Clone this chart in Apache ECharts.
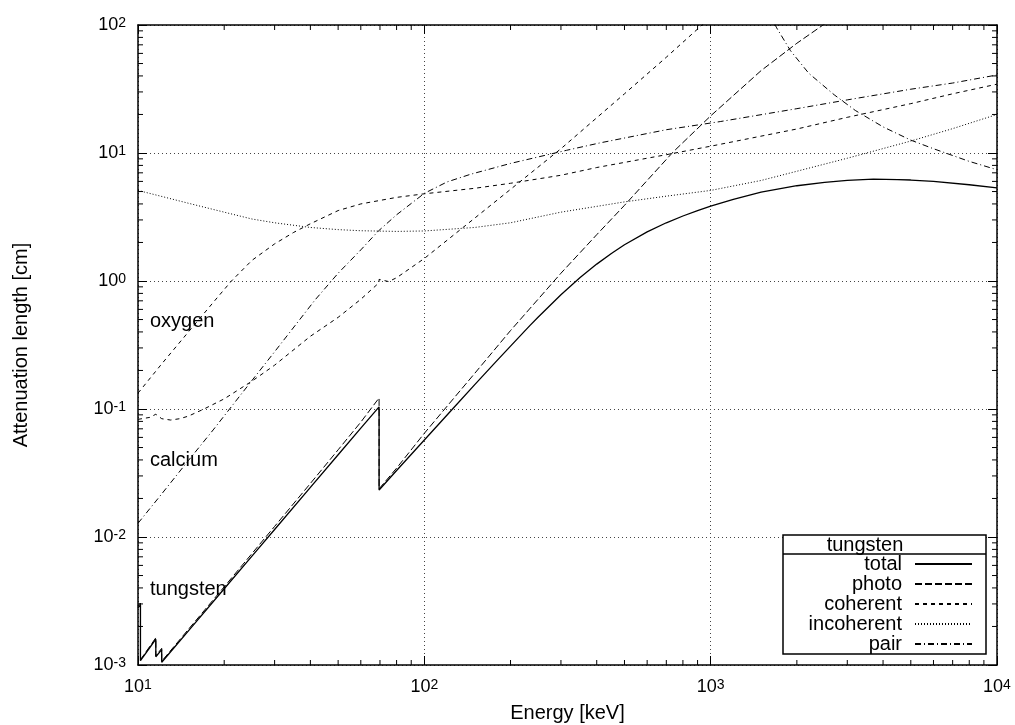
<!DOCTYPE html>
<html>
<head>
<meta charset="utf-8">
<title>Attenuation length</title>
<script src="https://cdn.jsdelivr.net/npm/echarts@6/dist/echarts.min.js"></script>
<style>
  html, body { margin: 0; padding: 0; background: #fff; }
  #chart { width: 1015px; height: 725px; }
</style>
</head>
<body>
<div id="chart"></div>
<script>
// energy in keV, attenuation length in cm
var totalE = [10, 10.2, 10.2, 11, 11.54, 11.54, 12.1, 12.1, 13, 15, 20, 25, 30, 40, 50, 60, 69.5, 69.5, 80, 100, 125, 150, 175, 200, 234, 250, 300, 350, 400, 450, 500, 600, 700, 800, 900, 1000, 1200, 1500, 2000, 2500, 3000, 3700, 4500, 5000, 6000, 8000, 10000];
var totalL = [0.0028, 0.00295, 0.00108, 0.00137, 0.00159, 0.00116, 0.00132, 0.00105, 0.00127, 0.00185, 0.00394, 0.00708, 0.01144, 0.0244, 0.0439, 0.0708, 0.104, 0.0233, 0.0331, 0.0573, 0.099, 0.155, 0.225, 0.31, 0.45, 0.524, 0.782, 1.065, 1.355, 1.642, 1.92, 2.42, 2.85, 3.22, 3.55, 3.85, 4.35, 4.95, 5.55, 5.9, 6.12, 6.25, 6.2, 6.15, 6.0, 5.65, 5.33];

var photoE = [10, 10.2, 10.2, 11.54, 11.54, 12.1, 12.1, 15, 20, 30, 40, 50, 60, 69.5, 69.5, 80, 100, 150, 200, 300, 400, 500, 740, 1000, 1500, 2000, 2500, 3000];
var photoL = [0.0029, 0.00305, 0.0011, 0.00163, 0.00118, 0.00135, 0.00107, 0.0019, 0.00408, 0.0121, 0.0262, 0.048, 0.079, 0.122, 0.0238, 0.0345, 0.0646, 0.19, 0.41, 1.15, 2.3, 3.9, 10.2, 19.5, 44, 72, 102, 140];

var cohE = [10, 11, 11.54, 12.1, 13, 14, 15, 17, 20, 25, 30, 40, 50, 60, 69.5, 69.5, 75, 80, 100, 150, 200, 300, 500, 700, 1000, 1200];
var cohL = [0.083, 0.086, 0.091, 0.084, 0.082, 0.084, 0.088, 0.1, 0.12, 0.165, 0.22, 0.37, 0.52, 0.72, 0.97, 1.03, 0.99, 1.06, 1.5, 3.1, 5.2, 10.8, 29, 56, 115, 165];

var incohE = [10, 12, 15, 20, 25, 30, 40, 50, 60, 80, 100, 150, 200, 300, 500, 700, 1000, 1500, 2000, 3000, 5000, 7000, 10000];
var incohL = [5.1, 4.6, 4.05, 3.45, 3.05, 2.85, 2.62, 2.52, 2.47, 2.44, 2.46, 2.62, 2.85, 3.45, 4.15, 4.6, 5.1, 6.1, 7.2, 9.1, 12.4, 15.5, 20];

var pairE = [1600, 1700, 1900, 2200, 2700, 3200, 4000, 5000, 6000, 8000, 10000];
var pairL = [125, 95, 63, 42, 28.5, 21.5, 16, 12.6, 10.8, 8.6, 7.4];

// other materials, drawn without a legend entry
var oxygenE = [10, 12, 15, 19, 21.2, 25, 30, 35, 40, 50, 60, 80, 100, 150, 200, 300, 400, 700, 1000, 2000, 3000, 5000, 7000, 10000];
var oxygenL = [0.133, 0.22, 0.40, 0.75, 1.0, 1.45, 1.95, 2.4, 2.8, 3.55, 4.0, 4.5, 4.8, 5.3, 5.8, 6.7, 7.7, 9.7, 11.3, 15.4, 19, 24.3, 29, 34.5];

var calciumE = [10, 12, 15, 18.3, 25, 30, 41.5, 50, 60, 69, 80, 100, 120, 145, 200, 314, 411, 700, 1080, 2000, 3000, 5000, 7000, 10000];
var calciumL = [0.0128, 0.0212, 0.0396, 0.0686, 0.167, 0.28, 0.71, 1.15, 1.75, 2.45, 3.29, 4.84, 5.94, 6.82, 8.29, 10.5, 12.0, 15.2, 17.6, 22.2, 26, 31.5, 35.2, 40.7];

var legendNames = ['total', 'photo', 'coherent', 'incoherent', 'pair'];
var minorSteps = [2, 3, 4, 5, 6, 7, 8, 9];
var xDecades = [10, 100, 1000];
var yDecades = [0.001, 0.01, 0.1, 1, 10];

var X_MIN = 10, X_MAX = 10000, Y_MIN = 0.001, Y_MAX = 100;
var FONT = 'Liberation Sans';
var FS = 20;     // titles, legend, annotations
var TICK_FS = 18;

function pairs(xs, ys) {
  return xs.map(function (x, i) { return [x, ys[i]]; });
}

// minor tick values for both log axes
var minorData = [];
xDecades.forEach(function (d) {
  minorSteps.forEach(function (s) { minorData.push([d * s, Y_MIN, 0]); });
});
yDecades.forEach(function (d) {
  minorSteps.forEach(function (s) { minorData.push([X_MIN, +(d * s).toPrecision(3), 1]); });
});

function renderMinorTick(params, api) {
  var len = 5;
  var st = { stroke: '#000', lineWidth: 1 };
  if (api.value(2) === 0) {
    var b = api.coord([api.value(0), Y_MIN]);
    var t = api.coord([api.value(0), Y_MAX]);
    return {
      type: 'group', children: [
        { type: 'line', shape: { x1: b[0], y1: b[1], x2: b[0], y2: b[1] - len }, style: st },
        { type: 'line', shape: { x1: t[0], y1: t[1], x2: t[0], y2: t[1] + len }, style: st }
      ]
    };
  }
  var l = api.coord([X_MIN, api.value(1)]);
  var r = api.coord([X_MAX, api.value(1)]);
  return {
    type: 'group', children: [
      { type: 'line', shape: { x1: l[0], y1: l[1], x2: l[0] + len, y2: l[1] }, style: st },
      { type: 'line', shape: { x1: r[0], y1: r[1], x2: r[0] - len, y2: r[1] }, style: st }
    ]
  };
}

function powLabel(v) {
  return '10{sup|' + Math.round(Math.log10(v)) + '}';
}

var labelRich = {
  sup: { fontFamily: FONT, fontSize: 14, color: '#000', verticalAlign: 'top', lineHeight: 14 }
};

function lineSeries(name, xs, ys, type, width) {
  return {
    name: name,
    type: 'line',
    data: pairs(xs, ys),
    showSymbol: false,
    symbol: 'none',
    animation: false,
    lineStyle: { color: '#000', width: width || 1, type: type },
    itemStyle: { color: '#000' },
    z: 2
  };
}

var chart = echarts.init(document.getElementById('chart'));

var option = {
  backgroundColor: '#fff',
  animation: false,
  grid: { left: 138, right: 18, top: 25, bottom: 60, containLabel: false, outerBoundsMode: 'none' },
  xAxis: [
    {
      type: 'log', logBase: 10, min: X_MIN, max: X_MAX,
      name: 'Energy [keV]', nameLocation: 'middle', nameGap: 38,
      nameTextStyle: { fontFamily: FONT, fontSize: FS, color: '#000' },
      axisLine: { lineStyle: { color: '#000', width: 1.5 } },
      axisTick: { inside: true, length: 9, lineStyle: { color: '#000' } },
      axisLabel: { formatter: powLabel, fontFamily: FONT, fontSize: TICK_FS, color: '#000', margin: 13, rich: labelRich },
      splitLine: { show: true, lineStyle: { color: '#444', type: [1, 3], width: 1 } }
    },
    {
      type: 'log', logBase: 10, min: X_MIN, max: X_MAX, position: 'top',
      axisLine: { lineStyle: { color: '#000', width: 1.5 } },
      axisTick: { inside: true, length: 9, lineStyle: { color: '#000' } },
      axisLabel: { show: false },
      splitLine: { show: false }
    }
  ],
  yAxis: [
    {
      type: 'log', logBase: 10, min: Y_MIN, max: Y_MAX,
      name: 'Attenuation length [cm]', nameLocation: 'middle', nameGap: 107,
      nameTextStyle: { fontFamily: FONT, fontSize: FS, color: '#000' },
      axisLine: { lineStyle: { color: '#000', width: 1.5 } },
      axisTick: { inside: true, length: 9, lineStyle: { color: '#000' } },
      axisLabel: { formatter: powLabel, fontFamily: FONT, fontSize: TICK_FS, color: '#000', margin: 12, rich: labelRich },
      splitLine: { show: true, lineStyle: { color: '#444', type: [1, 3], width: 1 } }
    },
    {
      type: 'log', logBase: 10, min: Y_MIN, max: Y_MAX, position: 'right',
      axisLine: { lineStyle: { color: '#000', width: 1.5 } },
      axisTick: { inside: true, length: 9, lineStyle: { color: '#000' } },
      axisLabel: { show: false },
      splitLine: { show: false }
    }
  ],
  legend: {
    data: legendNames,
    orient: 'vertical',
    align: 'right',
    right: 42,
    top: 554,
    padding: 0,
    itemWidth: 57,
    itemHeight: 20,
    itemGap: 0,
    selectedMode: false,
    itemStyle: { opacity: 0 },
    textStyle: { fontFamily: FONT, fontSize: FS, lineHeight: 20, color: '#000', padding: [0, 8, 0, 0] },
    z: 5
  },
  graphic: [
    { type: 'rect', z: 3, shape: { x: 783, y: 535, width: 203, height: 119 }, style: { fill: '#fff', stroke: '#000', lineWidth: 1.5 } },
    { type: 'line', z: 3, shape: { x1: 783, y1: 554, x2: 986, y2: 554 }, style: { stroke: '#000', lineWidth: 1.5 } },
    { type: 'text', z: 4, x: 865, y: 545, style: { text: 'tungsten', font: FS + 'px ' + FONT, fill: '#000', align: 'center', verticalAlign: 'middle' } },
    { type: 'text', z: 4, x: 150, y: 321, style: { text: 'oxygen', font: FS + 'px ' + FONT, fill: '#000', align: 'left', verticalAlign: 'middle' } },
    { type: 'text', z: 4, x: 150, y: 460, style: { text: 'calcium', font: FS + 'px ' + FONT, fill: '#000', align: 'left', verticalAlign: 'middle' } },
    { type: 'text', z: 4, x: 150, y: 589, style: { text: 'tungsten', font: FS + 'px ' + FONT, fill: '#000', align: 'left', verticalAlign: 'middle' } }
  ],
  series: [
    lineSeries('oxygen', oxygenE, oxygenL, [4, 4], 1),
    lineSeries('calcium', calciumE, calciumL, [6, 3, 1, 3], 1),
    lineSeries('total', totalE, totalL, 'solid', 1.3),
    lineSeries('photo', photoE, photoL, [7, 3], 1),
    lineSeries('coherent', cohE, cohL, [4, 4], 1),
    lineSeries('incoherent', incohE, incohL, [1, 2], 1),
    lineSeries('pair', pairE, pairL, [6, 3, 1, 3], 1),
    {
      name: 'minor ticks',
      type: 'custom',
      dimensions: ['x', 'y', 'kind'],
      encode: { x: 0, y: 1 },
      data: minorData,
      renderItem: renderMinorTick,
      silent: true,
      z: 1
    }
  ]
};

chart.setOption(option);
</script>
</body>
</html>
